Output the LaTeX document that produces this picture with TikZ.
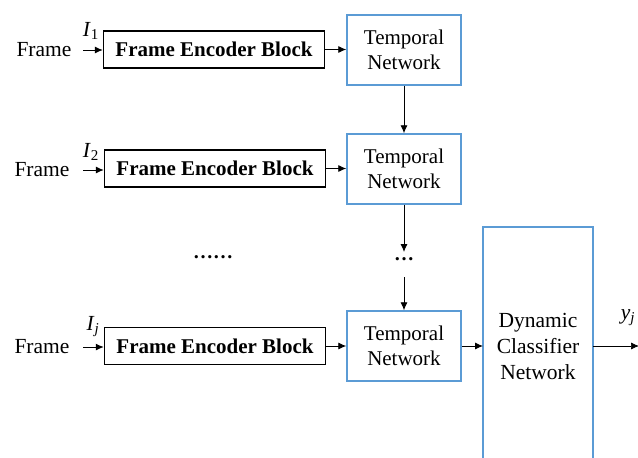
\documentclass[tikz,border=0pt]{standalone}
\usepackage{fontspec}
\setmainfont{Liberation Serif}
\newfontfamily\tnr{Liberation Serif}
\usetikzlibrary{arrows.meta}
\definecolor{boxblue}{RGB}{91,155,213}
\begin{document}
\begin{tikzpicture}[x=1pt,y=-1pt,
 enc/.style={draw=black, line width=1.5pt, minimum width=221pt, minimum height=37pt, inner sep=0pt, font=\tnr\fontsize{21}{24}\selectfont\bfseries},
 tmp/.style={draw=boxblue, line width=1.5pt, minimum width=114pt, minimum height=70pt, inner sep=0pt, align=center, font=\tnr\fontsize{21}{25}\selectfont},
 lbl/.style={font=\tnr\fontsize{21.5}{24}\selectfont, inner sep=0pt},
 arr/.style={-{Latex[length=8pt,width=7pt]}, line width=0.9pt}]
\useasboundingbox (0,0) rectangle (638,458);
\begin{scope}
\clip (0,0) rectangle (638,458);
% encoder boxes
\node[enc] (e1) at (214,49.5) {Frame Encoder Block};
\node[enc] (e2) at (215,168.5) {Frame Encoder Block};
\node[enc] (e3) at (215,346) {Frame Encoder Block};
% temporal
\node[tmp] (t1) at (404,50) {Temporal\\Network};
\node[tmp] (t2) at (404,169) {Temporal\\Network};
\node[tmp] (t3) at (404,346) {Temporal\\Network};
% frame labels
\node[lbl] (f1) at (44,50) {Frame};
\node[lbl] (f2) at (42,170) {Frame};
\node[lbl] (f3) at (42,347) {Frame};
\node[lbl] (i1) at (91,31) {\textit{I}\textsubscript{1}};
\node[lbl] (i2) at (91,152) {\textit{I}\textsubscript{2}};
\node[lbl] (i3) at (93,327) {\textit{I}\textsubscript{\textit{j}}};
\coordinate (a1) at (83,50);
\coordinate (a2) at (83,170);
\coordinate (a3) at (83,347);
\draw[arr] (a1) -- (e1.west|-a1);
\draw[arr] (a2) -- (e2.west|-a2);
\draw[arr] (a3) -- (e3.west|-a3);
\draw[arr] (e1.east) -- (t1.west|-e1.east);
\draw[arr] (e2.east) -- (t2.west|-e2.east);
\draw[arr] (e3.east) -- (t3.west|-e3.east);
% dots
\node[lbl, font=\tnr\fontsize{20}{24}\selectfont\bfseries] (hd) at (213,257) {\ldots\ldots};
\node[lbl, font=\tnr\fontsize{20}{24}\selectfont\bfseries] (vd) at (404,259) {\ldots};
\draw[arr] (t1.south) -- (t2.north);
\draw[arr] (t2.south) -- (404,252);
\draw[arr] (404,277) -- (t3.north);
% dynamic classifier
\coordinate (dl) at (483,346);
\coordinate (dr) at (593,346);
\draw[boxblue, line width=1.5pt] (483,470) -- (483,227) -- (593,227) -- (593,470);
\node[lbl, align=center, font=\tnr\fontsize{21.5}{26}\selectfont] (dyn) at (538,346) {Dynamic\\Classifier\\Network};
\draw[arr] (t3.east) -- (dl);
\coordinate (out) at (639,346);
\draw[arr, line width=0.7pt] (dr) -- (out);
\node[lbl] (yj) at (628,318) {\textit{y}\textsubscript{\textit{j}}};
\end{scope}
\end{tikzpicture}
\end{document}
